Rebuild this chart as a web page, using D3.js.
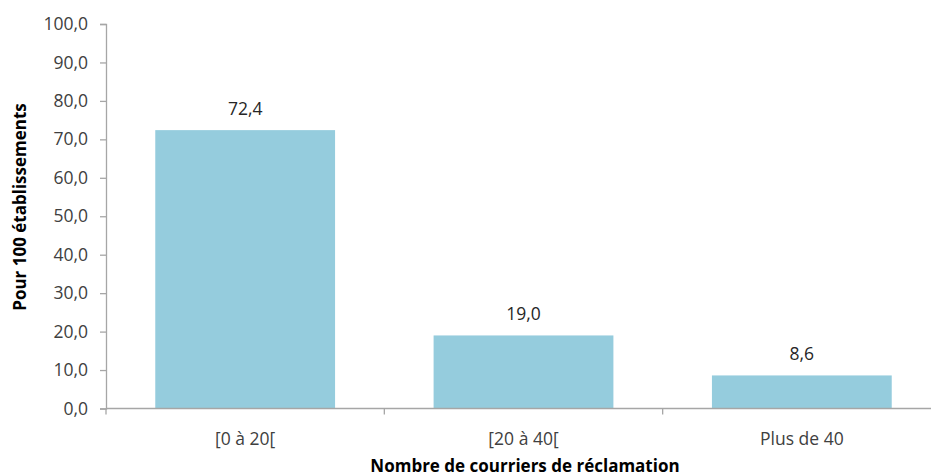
<!DOCTYPE html>
<html>
<head>
<meta charset="utf-8">
<script src="https://cdn.jsdelivr.net/npm/d3@7"></script>
<style>
  body { margin: 0; background: #fff; }
  svg { display: block; }
  text { font-family: "Open Sans", sans-serif; }
</style>
</head>
<body>
<svg id="chart" width="931" height="476"></svg>
<script>
// Distribution of establishments by number of complaint letters
const categories = ["[0 à 20[", "[20 à 40[", "Plus de 40"];
const values = [72.4, 19.0, 8.6];
const yTicks = [0, 10, 20, 30, 40, 50, 60, 70, 80, 90, 100];
const yTitle = "Pour 100 établissements";
const xTitle = "Nombre de courriers de réclamation";

const svg = d3.select("#chart");
const plotLeft = 106, plotRight = 941, plotTop = 24, plotBottom = 408.5;

const fmt = v => d3.format(".1f")(v).replace(".", ",");

const x = d3.scaleBand().domain(categories).range([plotLeft, plotRight]).paddingInner(0.354).paddingOuter(0.177);
const y = d3.scaleLinear().domain([0, 100]).range([plotBottom, plotTop]);

const axisColor = "#a6a6a6";
const textColor = "#404040";
const labelSize = "17.5px";

// y axis
const yAxis = svg.append("g")
  .attr("transform", `translate(${plotLeft},0)`)
  .call(d3.axisLeft(y).tickValues(yTicks).tickFormat(fmt).tickSize(6).tickPadding(12));
yAxis.select(".domain").attr("stroke", axisColor).attr("stroke-width", 1.3);
yAxis.selectAll(".tick line").attr("stroke", axisColor).attr("stroke-width", 1.3);
yAxis.selectAll(".tick text").attr("fill", textColor).style("font-size", labelSize);

// bars
svg.append("g").selectAll("rect")
  .data(values)
  .join("rect")
  .attr("x", (d, i) => x(categories[i]))
  .attr("width", x.bandwidth())
  .attr("y", d => y(d))
  .attr("height", d => y(0) - y(d))
  .attr("fill", "#95ccdd");

// x axis with boundary ticks between categories
const xAxisG = svg.append("g");
xAxisG.append("line")
  .attr("x1", plotLeft).attr("x2", plotRight)
  .attr("y1", plotBottom).attr("y2", plotBottom)
  .attr("stroke", axisColor).attr("stroke-width", 1.3);
const step = x.step();
const boundaries = d3.range(categories.length + 1).map(i => plotLeft + i * step);
xAxisG.selectAll("line.b")
  .data(boundaries)
  .join("line")
  .attr("class", "b")
  .attr("x1", d => d).attr("x2", d => d)
  .attr("y1", plotBottom).attr("y2", plotBottom + 6)
  .attr("stroke", axisColor).attr("stroke-width", 1.3);
xAxisG.selectAll("text")
  .data(categories)
  .join("text")
  .attr("x", d => x(d) + x.bandwidth() / 2)
  .attr("y", plotBottom + 36)
  .attr("text-anchor", "middle")
  .attr("fill", textColor)
  .style("font-size", labelSize)
  .text(d => d);

// value labels
svg.append("g").selectAll("text")
  .data(values)
  .join("text")
  .attr("x", (d, i) => x(categories[i]) + x.bandwidth() / 2)
  .attr("y", d => y(d) - 15)
  .attr("text-anchor", "middle")
  .attr("fill", "#262626")
  .style("font-size", labelSize)
  .text(d => fmt(d));

// axis titles
svg.append("text")
  .attr("x", 525).attr("y", 472)
  .attr("text-anchor", "middle")
  .attr("fill", "#000")
  .style("font-size", "17px")
  .style("font-weight", "bold")
  .text(xTitle);

svg.append("text")
  .attr("transform", "translate(26,207) rotate(-90)")
  .attr("text-anchor", "middle")
  .attr("fill", "#000")
  .style("font-size", "17px")
  .style("font-weight", "bold")
  .text(yTitle);
</script>
</body>
</html>
